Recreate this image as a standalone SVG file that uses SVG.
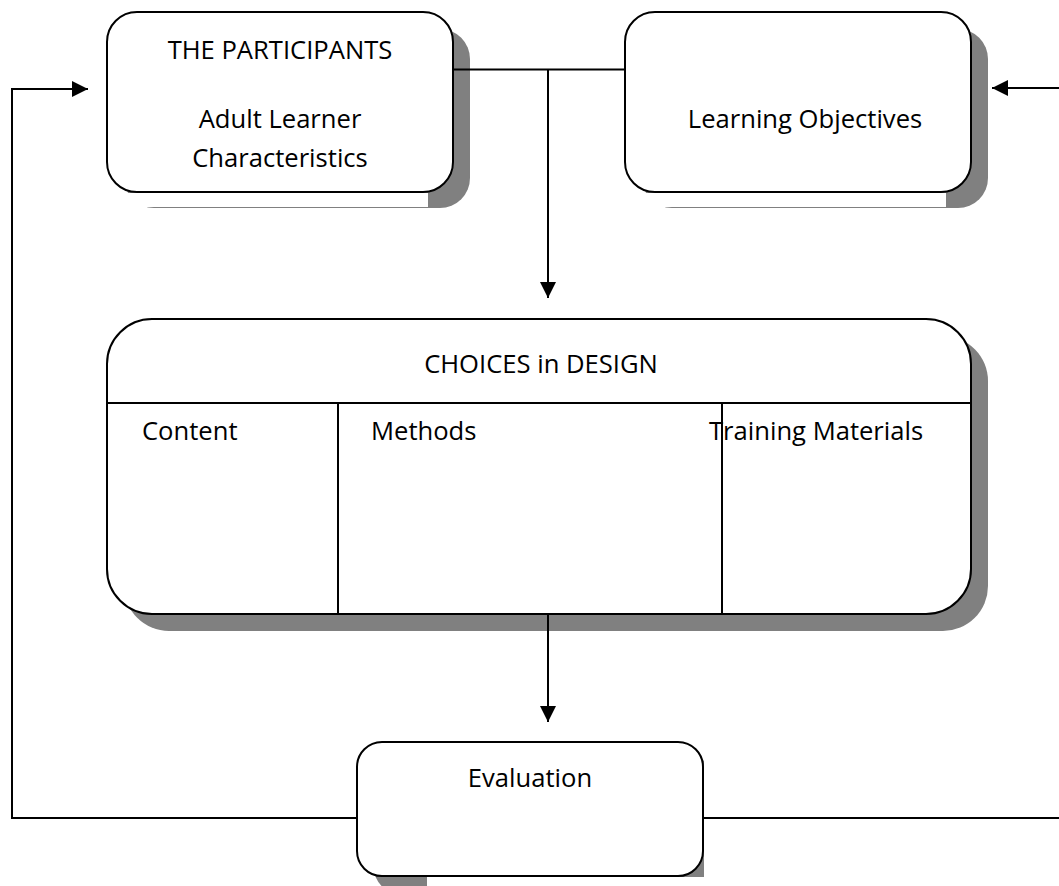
<svg xmlns="http://www.w3.org/2000/svg" width="1059" height="886" viewBox="0 0 1059 886">
  <style>
    .box { fill: #ffffff; stroke: #000000; stroke-width: 2; }
    .shadow { fill: #808080; stroke: none; }
    .cover { fill: #ffffff; stroke: none; }
    .div { fill: none; stroke: #000000; stroke-width: 2; }
    .conn { fill: none; stroke: #000000; stroke-width: 2; }
    text { font-family: "Open Sans", "Liberation Sans", sans-serif; font-size: 25.6px; fill: #000000; }
    .c { text-anchor: middle; }
  </style>
  <defs>
    <marker id="arrow" viewBox="0 0 16 16" refX="16" refY="8" markerWidth="16" markerHeight="16" markerUnits="userSpaceOnUse" orient="auto">
      <path d="M0,0 L16,8 L0,16 z" fill="#000000"/>
    </marker>
  </defs>
  <rect x="0" y="0" width="1059" height="886" fill="#ffffff"/>

  <g id="node-participants">
    <rect class="shadow" x="124" y="29" width="346" height="179" rx="30" ry="30"/>
    <rect class="cover" x="110" y="193" width="318" height="14"/>
    <rect class="box" x="107" y="12" width="346" height="180" rx="30" ry="30"/>
    <text class="c" x="280" y="59">THE PARTICIPANTS</text>
    <text class="c" x="280" y="128">Adult Learner</text>
    <text class="c" x="280" y="167">Characteristics</text>
  </g>

  <g id="node-objectives">
    <rect class="shadow" x="642" y="29" width="346" height="179" rx="30" ry="30"/>
    <rect class="cover" x="628" y="193" width="318" height="14"/>
    <rect class="box" x="625" y="12" width="346" height="180" rx="30" ry="30"/>
    <text class="c" x="805" y="128">Learning Objectives</text>
  </g>

  <g id="node-choices">
    <rect class="shadow" x="124" y="336" width="864" height="295" rx="45" ry="45"/>
    <rect class="box" x="107" y="319" width="864" height="295" rx="45" ry="45"/>
    <path class="div" d="M107,403 H971 M338,403 V614 M722,403 V614"/>
    <text class="c" x="541" y="373">CHOICES in DESIGN</text>
    <text x="142" y="440">Content</text>
    <text x="371" y="440">Methods</text>
    <text x="709" y="440">Training Materials</text>
  </g>

  <g id="node-evaluation">
    <rect class="shadow" x="374" y="759" width="346" height="134" rx="25" ry="25"/>
    <rect class="cover" x="427" y="877" width="310" height="10"/>
    <rect class="cover" x="704" y="750" width="25" height="137"/>
    <rect class="box" x="357" y="742" width="346" height="134" rx="25" ry="25"/>
    <text class="c" x="530" y="787">Evaluation</text>
  </g>

  <g id="connectors">
    <path class="conn" d="M453,69.5 H625"/>
    <path class="conn" d="M548,69.5 V298" marker-end="url(#arrow)"/>
    <path class="conn" d="M548,614 V722" marker-end="url(#arrow)"/>
    <path class="conn" d="M357,818 H12 V89 H88" marker-end="url(#arrow)"/>
    <path class="conn" d="M703,818 H1070 V88 H992" marker-end="url(#arrow)"/>
  </g>
</svg>
